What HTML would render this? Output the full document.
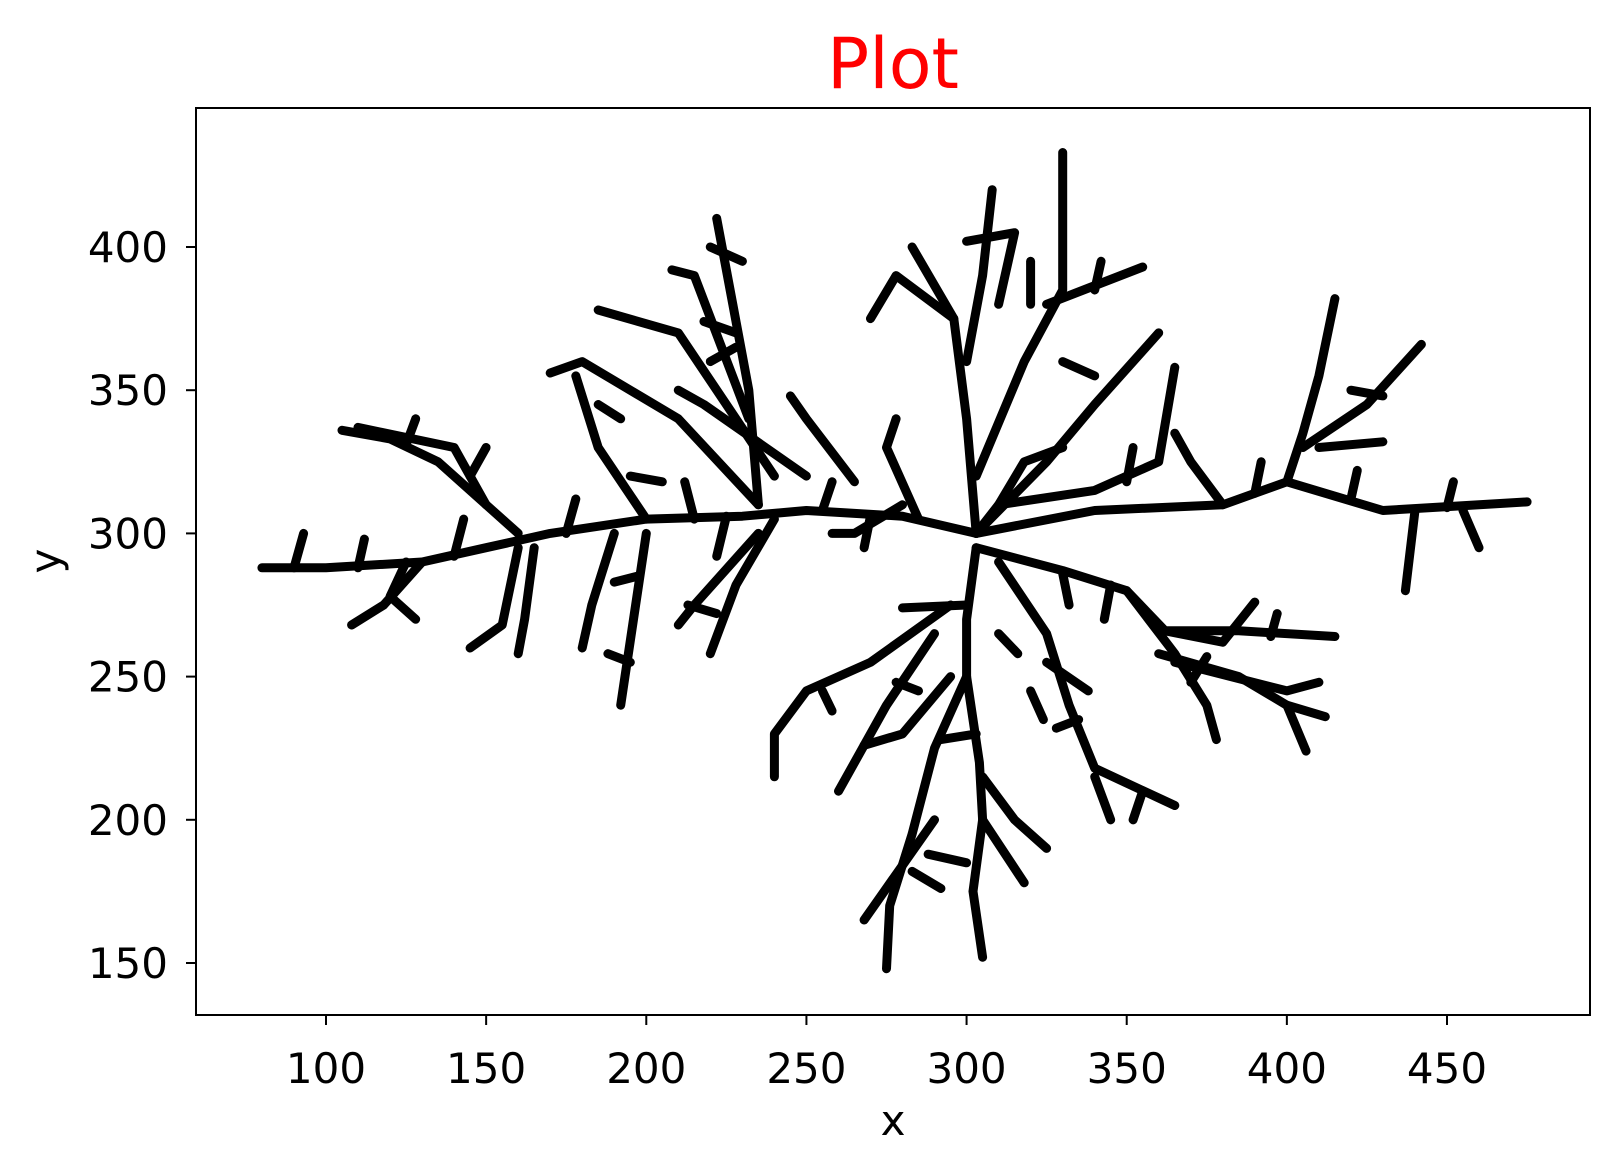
<!DOCTYPE html>
<html><head><meta charset="utf-8"><style>
body{margin:0;background:#fff;}
svg{display:block;font-family:"DejaVu Sans","Liberation Sans",sans-serif;}
</style></head><body>
<svg id="chart" width="1620" height="1170" viewBox="0 0 1620 1170">
<rect width="1620" height="1170" fill="#fff"/>
<text x="893" y="88" font-size="70" fill="#ff0000" text-anchor="middle">Plot</text>
<g id="marks"></g>
<rect x="196" y="108" width="1394" height="907" fill="none" stroke="#000" stroke-width="2"/>
<g id="xt"></g>
<g id="yt"></g>
<text x="893" y="1135" font-size="42" text-anchor="middle">x</text>
<text x="60" y="561" font-size="42" text-anchor="middle" transform="rotate(-90 60 561)">y</text>
</svg>
<script>
const xTicks=[100,150,200,250,300,350,400,450];
const yTicks=[150,200,250,300,350,400];
const branches=[
[[303,300],[280,306],[250,308],[230,306],[200,305],[170,300],[150,295],[130,290],[100,288],[80,288]],
[[235,310],[210,340],[180,360],[170,356]],
[[200,305],[185,330],[178,355]],
[[150,310],[140,330],[110,337]],
[[160,300],[135,325],[120,333],[105,336]],
[[130,290],[118,275],[108,268]],
[[125,290],[120,278],[128,270]],
[[160,295],[155,268],[145,260]],
[[165,295],[162,270],[160,258]],
[[200,300],[196,270],[192,240]],
[[190,300],[183,275],[180,260]],
[[240,305],[228,282],[220,258]],
[[235,300],[215,275],[210,268]],
[[235,310],[232,350],[227,380],[222,410]],
[[232,340],[215,390],[208,392]],
[[240,320],[210,370],[185,378]],
[[250,320],[218,345],[210,350]],
[[265,318],[250,340],[245,348]],
[[303,300],[300,340],[296,375],[283,400]],
[[296,375],[278,390],[270,375]],
[[300,360],[305,390],[308,420]],
[[303,320],[318,360],[330,385],[330,433]],
[[325,380],[355,393]],
[[310,380],[315,405],[300,402]],
[[303,300],[325,325],[340,345],[360,370]],
[[310,310],[340,315],[360,325],[365,358]],
[[303,300],[340,308],[380,310],[400,318],[430,308],[475,311]],
[[400,318],[405,335],[410,355],[415,382]],
[[405,330],[425,345],[442,366]],
[[410,330],[430,332]],
[[440,308],[437,280]],
[[455,308],[460,295]],
[[380,310],[370,325],[365,335]],
[[303,295],[330,287],[350,280],[362,266],[385,266],[415,264]],
[[350,280],[365,258],[375,240],[378,228]],
[[362,266],[380,262],[390,276]],
[[360,258],[385,250],[400,240],[412,236]],
[[400,240],[406,224]],
[[365,255],[400,245],[410,248]],
[[310,290],[325,265],[332,240],[340,218],[365,205]],
[[325,255],[338,245]],
[[340,215],[345,200]],
[[303,295],[300,270],[300,250],[304,220],[305,200],[302,175],[305,152]],
[[300,250],[290,225],[283,195],[276,170],[275,148]],
[[290,200],[268,165]],
[[305,215],[315,200],[325,190]],
[[305,200],[318,178]],
[[295,275],[270,255],[250,245],[240,230],[240,215]],
[[290,265],[275,240],[260,210]],
[[295,250],[280,230],[268,226]],
[[300,275],[280,274]],
[[280,310],[265,300],[258,300]],
[[285,305],[275,330],[278,340]],
[[303,300],[310,310],[318,325],[330,330]],
[[90,288],[93,300]],[[110,288],[112,298]],[[140,292],[143,305]],[[175,300],[178,312]],
[[215,305],[212,318]],[[225,306],[222,292]],[[255,308],[258,318]],[[270,306],[268,295]],
[[145,320],[150,330]],[[125,331],[128,340]],[[195,320],[205,318]],[[185,345],[192,340]],
[[220,360],[228,365]],[[230,395],[220,400]],[[228,370],[218,374]],[[213,275],[222,272]],
[[195,255],[188,258]],[[197,285],[190,283]],[[320,380],[320,395]],[[340,385],[342,395]],
[[330,360],[340,355]],[[350,318],[352,330]],[[390,314],[392,325]],[[420,312],[422,322]],
[[450,309],[452,318]],[[420,350],[430,348]],[[330,286],[332,275]],[[345,282],[343,270]],
[[395,264],[397,272]],[[375,257],[370,248]],[[335,235],[328,232]],[[303,230],[292,228]],
[[300,185],[288,188]],[[283,182],[292,176]],[[285,245],[278,248]],[[255,245],[258,238]],
[[310,265],[316,258]],[[320,245],[324,235]],[[355,210],[352,200]]
];
const X0=326,XK=(1447-326)/350,Y0=533.4,YK=(963-247)/250;
function sx(v){return X0+(v-100)*XK;}
function sy(v){return Y0-(v-300)*YK;}
const NS="http://www.w3.org/2000/svg";
const g=document.getElementById('marks');
branches.forEach((b)=>{
 const p=document.createElementNS(NS,'polyline');
 
 
 p.setAttribute('points',b.map(q=>sx(q[0]).toFixed(1)+','+sy(q[1]).toFixed(1)).join(' '));
 p.setAttribute('fill','none');p.setAttribute('stroke','#000');p.setAttribute('stroke-width','9');
 p.setAttribute('stroke-linejoin','round');p.setAttribute('stroke-linecap','round');
 g.appendChild(p);
});
const xt=document.getElementById('xt');
xTicks.forEach(v=>{
 const l=document.createElementNS(NS,'line');
 
 
 l.setAttribute('x1',sx(v));l.setAttribute('x2',sx(v));l.setAttribute('y1',1015);l.setAttribute('y2',1025);l.setAttribute('stroke','#000');l.setAttribute('stroke-width','2');
 xt.appendChild(l);
 const t=document.createElementNS(NS,'text');
 
 
 t.setAttribute('x',sx(v));t.setAttribute('y',1083);t.setAttribute('font-size','42');t.setAttribute('text-anchor','middle');
 t.textContent=v;xt.appendChild(t);
});
const yt=document.getElementById('yt');
yTicks.forEach(v=>{
 const l=document.createElementNS(NS,'line');
 
 
 l.setAttribute('x1',186);l.setAttribute('x2',196);l.setAttribute('y1',sy(v));l.setAttribute('y2',sy(v));l.setAttribute('stroke','#000');l.setAttribute('stroke-width','2');
 yt.appendChild(l);
 const t=document.createElementNS(NS,'text');
 
 
 t.setAttribute('x',168);t.setAttribute('y',sy(v)+15);t.setAttribute('font-size','42');t.setAttribute('text-anchor','end');
 t.textContent=v;yt.appendChild(t);
});
</script>
</body></html>
